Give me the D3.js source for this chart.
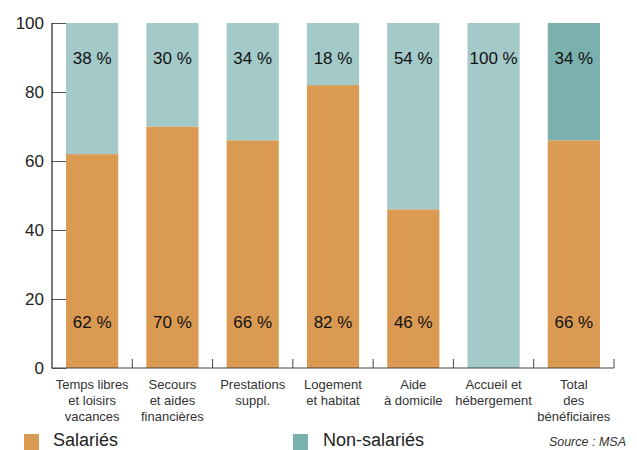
<!DOCTYPE html>
<html><head><meta charset="utf-8">
<script src="https://cdn.jsdelivr.net/npm/d3@7"></script>
<style>body{margin:0;background:#fff}svg{display:block}</style>
</head><body>
<svg id="c" width="637" height="450"></svg>
<script>
const categories = [
  ["Temps libres","et loisirs","vacances"],
  ["Secours","et aides","financières"],
  ["Prestations","suppl."],
  ["Logement","et habitat"],
  ["Aide","à domicile"],
  ["Accueil et","hébergement"],
  ["Total","des","bénéficiaires"]
];
const salaries = [62, 70, 66, 82, 46, 0, 66];
const nonSalaries = [38, 30, 34, 18, 54, 100, 34];
const yTicks = [0, 20, 40, 60, 80, 100];
const seriesNames = ["Salariés", "Non-salariés"];

const svg = d3.select("#c");
const font = "'Liberation Sans', Arial, Helvetica, sans-serif";
const cOrange = "#DA9A52", cTeal = "#A3C9C8", cTealDark = "#7AB1AF";

const x = d3.scaleBand().domain(d3.range(categories.length)).range([52, 614])
  .paddingInner(0.35).paddingOuter(0.175);
const y = d3.scaleLinear().domain([0, 100]).range([368, 23]);

// bars
const g = svg.append("g");
categories.forEach((c, i) => {
  g.append("rect").attr("x", x(i)).attr("width", x.bandwidth())
    .attr("y", y(salaries[i])).attr("height", y(0) - y(salaries[i]))
    .attr("fill", cOrange);
  g.append("rect").attr("x", x(i)).attr("width", x.bandwidth())
    .attr("y", y(salaries[i] + nonSalaries[i])).attr("height", y(salaries[i]) - y(salaries[i] + nonSalaries[i]))
    .attr("fill", i === categories.length - 1 ? cTealDark : cTeal);
  g.append("text").attr("x", x(i) + x.bandwidth() / 2).attr("y", 64)
    .attr("text-anchor", "middle").attr("font-family", font).attr("font-size", 17)
    .attr("fill", "#111").text(nonSalaries[i] + " %");
  if (salaries[i] > 0) {
    g.append("text").attr("x", x(i) + x.bandwidth() / 2).attr("y", 328)
      .attr("text-anchor", "middle").attr("font-family", font).attr("font-size", 17)
      .attr("fill", "#111").text(salaries[i] + " %");
  }
});

// y axis
const yAxis = svg.append("g").attr("transform", "translate(52,0)")
  .call(d3.axisRight(y).tickValues(yTicks).tickSize(14).tickFormat(""));
yAxis.select(".domain").remove();
yAxis.selectAll("line").attr("stroke", "#555");
svg.append("line").attr("x1", 52).attr("x2", 52).attr("y1", 23).attr("y2", 368.5)
  .attr("stroke", "#222").attr("stroke-width", 1.2);
yTicks.forEach(t => {
  svg.append("text").attr("x", 44).attr("y", y(t) + 6).attr("text-anchor", "end")
    .attr("font-family", font).attr("font-size", 17).attr("fill", "#222").text(t);
});

// x axis
svg.append("line").attr("x1", 52).attr("x2", 614).attr("y1", 368).attr("y2", 368)
  .attr("stroke", "#444").attr("stroke-width", 1.2);
d3.range(1, categories.length + 1).forEach(i => {
  const xv = x.range()[0] + x.step() * i;
  svg.append("line").attr("x1", xv).attr("x2", xv).attr("y1", 359).attr("y2", 368)
    .attr("stroke", "#444");
});
categories.forEach((c, i) => {
  const t = svg.append("text").attr("text-anchor", "middle").attr("font-family", font)
    .attr("font-size", 13).attr("fill", "#333");
  c.forEach((ln, k) => {
    t.append("tspan").attr("x", x(i) + x.bandwidth() / 2).attr("y", 389 + k * 16).text(ln);
  });
});

// legend
svg.append("rect").attr("x", 24).attr("y", 434).attr("width", 15).attr("height", 16).attr("fill", cOrange);
svg.append("text").attr("x", 53).attr("y", 446).attr("font-family", font).attr("font-size", 18)
  .attr("fill", "#222").text(seriesNames[0]);
svg.append("rect").attr("x", 293).attr("y", 434).attr("width", 15).attr("height", 16).attr("fill", cTealDark);
svg.append("text").attr("x", 323).attr("y", 446).attr("font-family", font).attr("font-size", 18)
  .attr("fill", "#222").text(seriesNames[1]);
svg.append("text").attr("x", 626).attr("y", 446).attr("text-anchor", "end").attr("font-family", font)
  .attr("font-size", 12.5).attr("font-style", "italic").attr("fill", "#333").text("Source : MSA");
</script>
</body></html>
